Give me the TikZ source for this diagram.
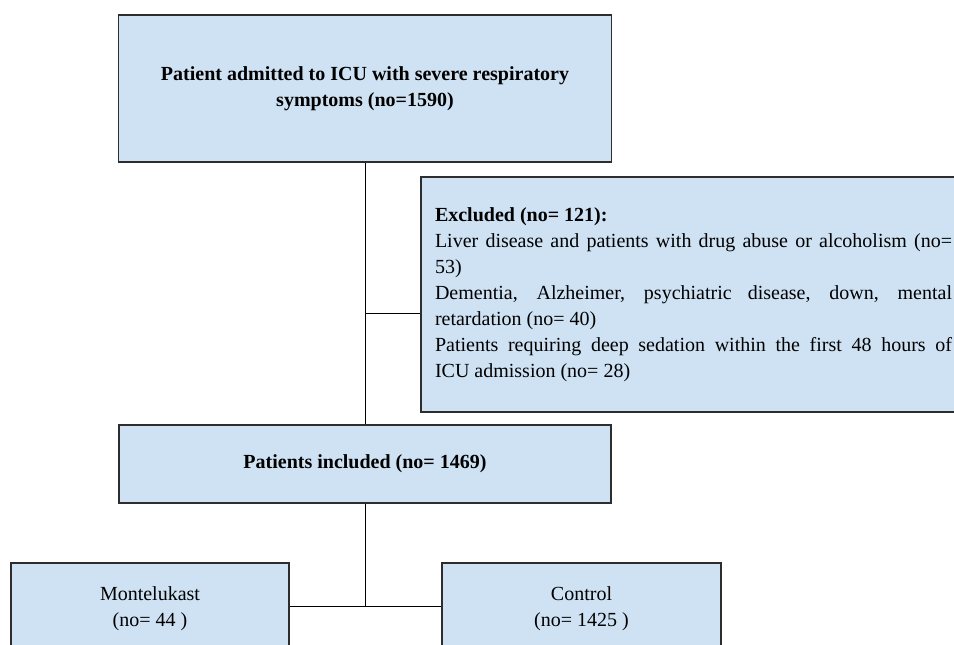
\documentclass[tikz,border=0pt]{standalone}
\usepackage{fontspec}
\setmainfont{Liberation Serif}
\usepackage{tikz}
\usetikzlibrary{calc}

\definecolor{boxblue}{RGB}{207,226,243}
\definecolor{boxline}{RGB}{45,45,45}

\tikzset{
  flowbox/.style={draw=boxline, fill=boxblue, line width=0.9pt, rectangle, inner sep=0pt,
    font=\fontsize{15}{19.5}\selectfont, align=center},
  link/.style={draw=black, line width=0.6pt}
}

\begin{document}
\begin{tikzpicture}[x=0.75pt,y=0.75pt,yscale=-1,xscale=1]
        %set diagram size at 954 x 644
        \clip (0,0) rectangle (954,644);

        %Shape: Rectangle [admitted]
        \node (admit) [flowbox, minimum width=369.75pt, minimum height=110.25pt] at (365,88.5)
            {\bfseries Patient admitted to ICU with severe respiratory\\ \bfseries symptoms (no=1590)};
        %Shape: Rectangle [excluded]
        \node (excl) [flowbox, minimum width=408.75pt, minimum height=176.25pt, text width=387.75pt,
            inner xsep=10.5pt, align=justify] at (693.5,294.5)
            {\textbf{Excluded (no= 121):}\newline
             Liver disease and patients with drug abuse or alcoholism (no=\linebreak 53)\newline
             Dementia, Alzheimer, psychiatric disease, down, mental\linebreak retardation (no= 40)\newline
             Patients requiring deep sedation within the first 48 hours of\linebreak ICU admission (no= 28)};
        %Shape: Rectangle [included]
        \node (incl) [flowbox, minimum width=369pt, minimum height=58.5pt] at (365,464)
            {\bfseries Patients included (no= 1469)};
        %Shape: Rectangle [montelukast]
        \node (mont) [flowbox, minimum width=208.5pt, minimum height=69pt] at (150,609)
            {Montelukast\\ (no= 44 )};
        %Shape: Rectangle [control]
        \node (ctrl) [flowbox, minimum width=209.25pt, minimum height=69pt] at (581.5,609)
            {Control\\ (no= 1425 )};

        % junctions
        \coordinate (jexcl) at (365,313);
        \coordinate (jarms) at (365,606);

        %Straight Lines
        \draw [link] (admit.south) -- (incl.north);
        %Straight Lines
        \draw [link] (jexcl) -- (jexcl -| excl.west);
        %Straight Lines
        \draw [link] (incl.south) -- (jarms);
        %Straight Lines
        \draw [link] (jarms -| mont.east) -- (jarms -| ctrl.west);

\end{tikzpicture}
\end{document}
